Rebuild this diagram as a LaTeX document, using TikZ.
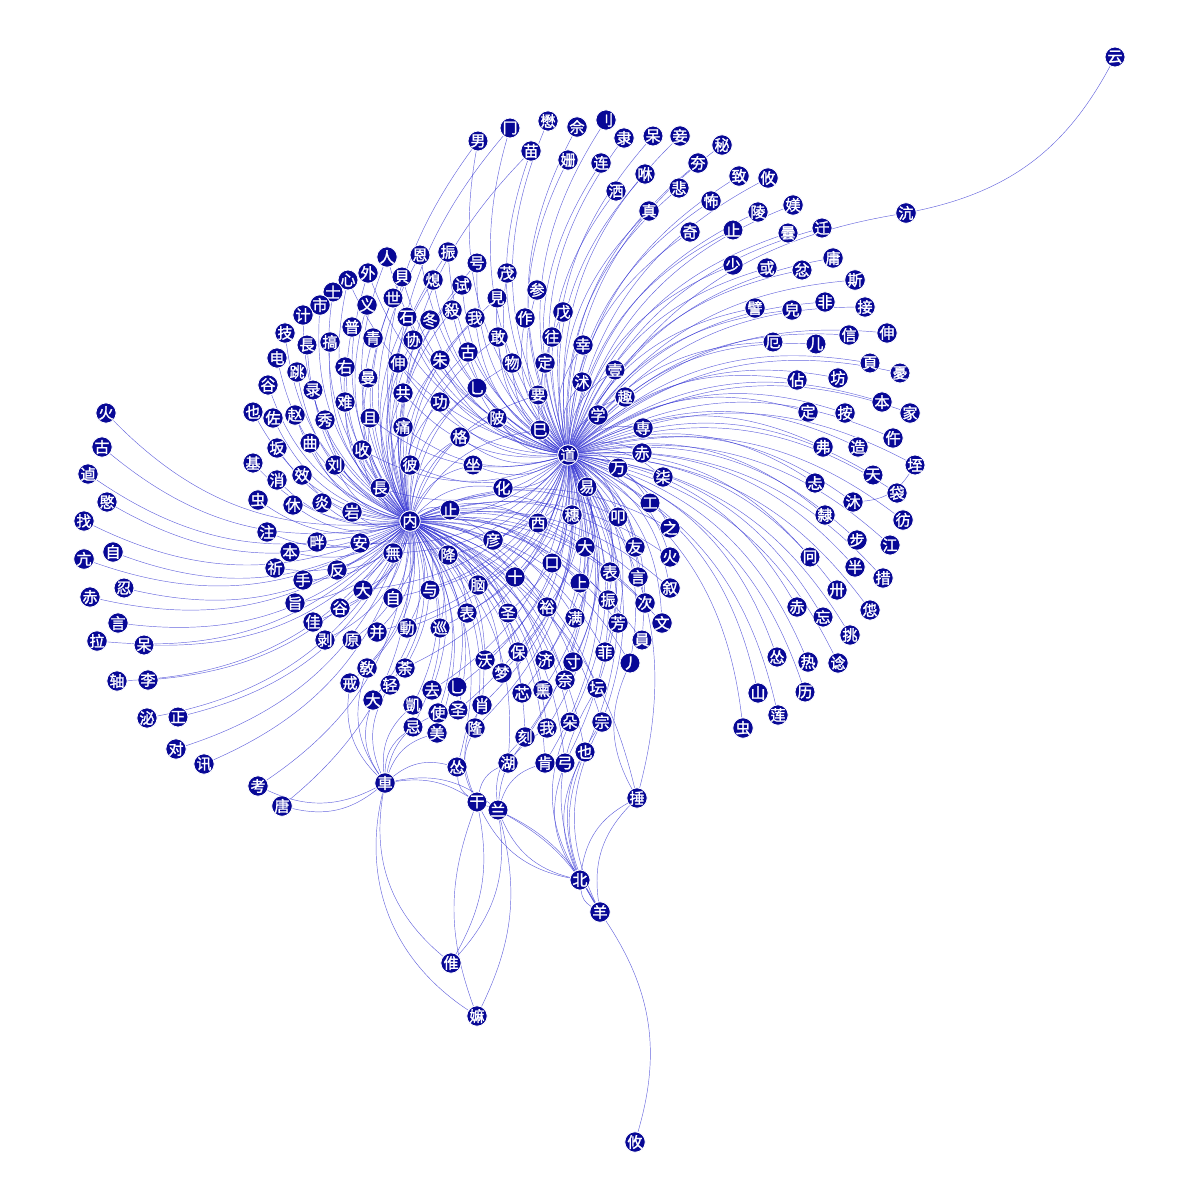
\documentclass[tikz,border=0pt]{standalone}
\usepackage{fontspec}
\newfontfamily\cjk{Noto Sans CJK SC}[FakeBold=1.6]
\usepackage{tikz}
\usetikzlibrary{calc}
\pgfdeclarelayer{bg}
\pgfsetlayers{bg,main}
\definecolor{navy}{RGB}{8,8,150}
\definecolor{wire}{RGB}{50,50,210}
\tikzstyle{vertex} = [circle, fill=navy, draw=white, line width=0.8pt,
    minimum size=20pt, inner sep=0pt, text=white, font=\cjk\fontsize{15}{15}\selectfont]
\tikzstyle{link} = [draw=wire, line width=0.45pt, opacity=0.75]

\begin{document}
\begin{tikzpicture}[x=1pt, y=-1pt,
    pull/.style={bend right=26}
    ]
    \useasboundingbox (0,0) rectangle (1200,1200);

    % hubs
    \node[vertex] (nei) at (410,521) {内};
    \node[vertex] (dao) at (568,455) {道};
    \node[vertex] (che) at (385,783) {車};
    \node[vertex] (gan) at (477,802) {干};
    \node[vertex] (lan) at (498,810) {兰};
    \node[vertex] (bei) at (580,880) {北};
    \node[vertex] (yang) at (600,912) {羊};
    \node[vertex] (zhui) at (451,963) {倠};
    \node[vertex] (ma) at (477,1016) {嫲};
    \node[vertex] (you) at (635,1142) {攸};
    \node[vertex] (hang) at (906,213) {沆};
    \node[vertex] (yun) at (1115,57) {云};

    % left fan
    \foreach \n/\x/\y/\t in {1/106/413/火, 2/102/447/古, 3/88/474/逌, 4/107/502/愍,
        5/84/521/找, 6/84/559/亢, 7/113/552/自, 8/124/588/忍, 9/90/597/赤,
        10/118/623/言, 11/97/641/拉, 12/144/645/呆, 13/117/681/轴, 14/148/680/李,
        15/147/718/泌, 16/178/717/正, 17/176/749/对, 18/204/764/讯, 19/258/786/考,
        20/282/806/唐}
        \node[vertex] (f\n) at (\x,\y) {\t};

    % upper left
    \foreach \n/\x/\y/\t in {1/387/257/人, 2/420/255/恩, 3/448/252/振, 4/368/273/外,
        5/348/280/心, 6/402/277/貝, 7/433/280/熄, 8/462/285/试, 9/333/292/士,
        10/320/305/市, 11/367/305/义, 12/393/298/世, 13/407/317/石, 14/430/320/冬,
        15/452/310/殺, 16/303/315/计, 17/285/333/技, 18/352/327/普, 19/330/342/搞,
        20/373/338/青, 21/307/345/長, 22/413/340/协, 23/277/358/电, 24/440/360/朱,
        25/297/372/跳, 26/345/367/右, 27/368/378/曼, 28/398/363/伸, 29/268/385/谷,
        30/313/390/录, 31/403/393/共, 32/345/402/难, 33/440/402/功, 34/253/412/也,
        35/273/418/佐, 36/295/415/赵, 37/325/420/秀, 38/370/418/且, 39/403/427/痛,
        40/460/437/格, 41/277/448/坂, 42/310/443/曲, 43/362/450/收, 44/253/463/基,
        45/335/465/刘, 46/410/465/彼, 47/277/480/消, 48/302/475/效, 49/380/488/長,
        50/258/500/虫, 51/293/505/休, 52/322/503/炎, 53/352/512/岩, 54/450/510/止,
        55/267/532/注, 56/290/552/本, 57/317/542/畔, 58/360/543/安, 59/393/553/無,
        60/448/555/降, 61/275/568/祈, 62/337/570/反, 63/303/580/手, 64/363/590/大,
        65/430/590/与, 66/393/598/自, 67/295/603/旨, 68/340/608/谷, 69/313/622/佳,
        70/325/640/剥, 71/352/640/原, 72/377/632/并, 73/407/628/動, 74/440/628/巡,
        75/367/668/敎, 76/405/668/荼, 77/350/683/戒, 78/390/685/轻, 79/373/700/大,
        80/432/690/去, 81/457/687/乚, 82/413/705/凱, 83/438/713/使, 84/458/710/圣,
        85/413/727/忌, 86/437/733/美, 87/457/767/怂}
        \node[vertex] (a\n) at (\x,\y) {\t};

    % top and right
    \foreach \n/\x/\y/\t in {1/478/141/男, 2/510/128/冂, 3/548/121/懋, 4/577/127/佘,
        5/606/120/刂, 6/531/151/苗, 7/568/160/姗, 8/601/163/连, 9/624/138/隶,
        10/653/136/呆, 11/680/136/妾, 12/722/145/秘, 13/698/163/夯, 14/616/191/洒,
        15/645/174/咻, 16/679/188/悲, 17/711/201/怖, 18/739/176/致, 19/768/178/攸,
        20/649/211/真, 21/690/232/奇, 22/733/230/止, 23/758/212/陵, 24/793/205/媄,
        25/788/233/曇, 26/822/228/迁, 27/733/265/少, 28/767/268/或, 29/802/270/忿,
        30/833/258/庸, 31/855/280/斯, 32/755/308/譬, 33/792/310/皃, 34/825/302/非,
        35/865/307/接, 36/887/333/伸, 37/849/335/信, 38/773/342/厄, 39/816/344/儿,
        40/870/363/頁, 41/900/373/憂, 42/797/380/佔, 43/838/378/坊, 44/882/402/本,
        45/910/413/家, 46/808/412/定, 47/845/413/按, 48/893/438/仵, 49/823/447/弗,
        50/858/447/造, 51/915/465/垤, 52/873/475/天, 53/815/483/忐, 54/853/502/沐,
        55/897/493/袋, 56/903/520/彷, 57/825/515/隸, 58/857/540/步, 59/890/545/江,
        60/810/557/冋, 61/855/567/半, 62/883/578/措, 63/837/590/卅, 64/870/610/怹,
        65/823/617/忘, 66/797/607/赤, 67/850/635/挑, 68/777/657/怂, 69/808/662/热,
        70/838/663/谂, 71/758/693/山, 72/805/692/历, 73/778/715/莲, 74/743/728/虫}
        \node[vertex] (t\n) at (\x,\y) {\t};

    % between the hubs
    \foreach \n/\x/\y/\t in {1/477/263/号, 2/507/273/茂, 3/537/290/参, 4/497/298/見,
        5/475/318/我, 6/525/318/作, 7/563/312/戊, 8/498/337/敢, 9/552/337/往,
        10/583/345/幸, 11/468/352/古, 12/512/363/物, 13/545/363/定, 14/615/370/壹,
        15/582/382/沭, 16/477/388/乚, 17/538/395/要, 18/625/397/趣, 19/497/418/陂,
        20/598/415/学, 21/540/430/巳, 22/643/428/専, 23/642/453/赤, 24/473/465/坐,
        25/618/468/万, 26/587/487/易, 27/503/488/化, 28/663/477/柒, 29/650/503/工}
        \node[vertex] (m\n) at (\x,\y) {\t};

    % lower middle
    \foreach \n/\x/\y/\t in {1/538/523/西, 2/572/515/穗, 3/618/517/叩, 4/670/528/之,
        5/493/540/彦, 6/585/547/大, 7/635/547/友, 8/670/557/火, 9/552/563/口,
        10/478/585/脑, 11/515/577/十, 12/580/583/上, 13/610/572/表, 14/638/577/言,
        15/670/588/叙, 16/467/613/表, 17/508/613/圣, 18/547/607/裕, 19/608/600/振,
        20/645/603/次, 21/575/618/满, 22/618/623/芳, 23/662/623/文, 24/642/640/員,
        25/605/652/菲, 26/630/663/丿, 27/485/660/沃, 28/518/652/保, 29/545/660/济,
        30/573/662/寸, 31/502/673/梦, 32/565/680/奈, 33/522/693/芯, 34/543/690/熏,
        35/597/688/坛, 36/482/705/肖, 37/475/728/隆, 38/525/737/刻, 39/547/728/我,
        40/570/722/朵, 41/602/722/宗, 42/585/752/也, 43/508/763/湖, 44/545/763/肯,
        45/565/763/弓, 46/637/798/捶}
        \node[vertex] (b\n) at (\x,\y) {\t};

    \begin{pgfonlayer}{bg}
    \foreach \i in {1,...,20} \draw[link] (f\i) to[pull] (nei);
    \foreach \i in {1,...,87} \draw[link] (a\i) to[pull] (nei);
    \foreach \i in {1,...,8,13,14,15,22,24,28,31,33,38,39,40,43,46,49,53,54,58,59,60,64,65,66,72,73,74,76,80,81,84}
        \draw[link] (a\i) to[pull] (dao);
    \foreach \i in {1,...,74} \draw[link] (t\i) to[pull] (dao);
    \foreach \i in {1,2,6} \draw[link] (t\i) to[pull] (nei);
    \foreach \i in {1,...,29} \draw[link] (m\i) to[pull] (dao);
    \foreach \i in {1,4,5,8,11,12,16,17,19,21,24,27} \draw[link] (m\i) to[pull] (nei);
    \foreach \i in {1,...,46} {
        \draw[link] (b\i) to[pull] (dao);
        \draw[link] (b\i) to[pull] (nei);
    }
    \foreach \i in {19,20} \draw[link] (f\i) to[pull] (che);
    \foreach \i in {75,77,78,79,82,83,85,86,87} \draw[link] (a\i) to[pull] (che);
    \foreach \i in {36,37,43} \draw[link] (b\i) to[pull] (gan);
    \foreach \i in {38,39,44} \draw[link] (b\i) to[pull] (lan);
    \foreach \i in {35,40,41,42,45,46} \draw[link] (b\i) to[pull] (bei);
    \foreach \i in {41,42,46} \draw[link] (b\i) to[pull] (yang);
    \draw[link] (a87) to[pull] (gan);
    \draw[link] (che) to[bend left=20] (gan);
    \draw[link] (che) to[bend left=25] (lan);
    \draw[link] (gan) to[pull] (bei);
    \draw[link] (lan) to[pull] (bei);
    \draw[link] (gan) to[bend left=20] (yang);
    \draw[link] (lan) to[bend left=15] (yang);
    \draw[link] (bei) to[pull] (yang);
    \draw[link] (zhui) to[bend left=30] (che);
    \draw[link] (zhui) to[bend right=20] (gan);
    \draw[link] (zhui) to[bend right=25] (lan);
    \draw[link] (ma) to[bend left=20] (gan);
    \draw[link] (ma) to[bend right=20] (lan);
    \draw[link] (ma) to[bend left=35] (che);
    \draw[link] (you) to[bend right=25] (yang);
    \draw[link] (b26) to[pull] (b46);
    \draw[link] (t54) to[pull] (t51);
    \draw[link] (yun) to[bend left=25] (hang);
    \draw[link] (hang) to[pull] (dao);
    \end{pgfonlayer}
\end{tikzpicture}
\end{document}
